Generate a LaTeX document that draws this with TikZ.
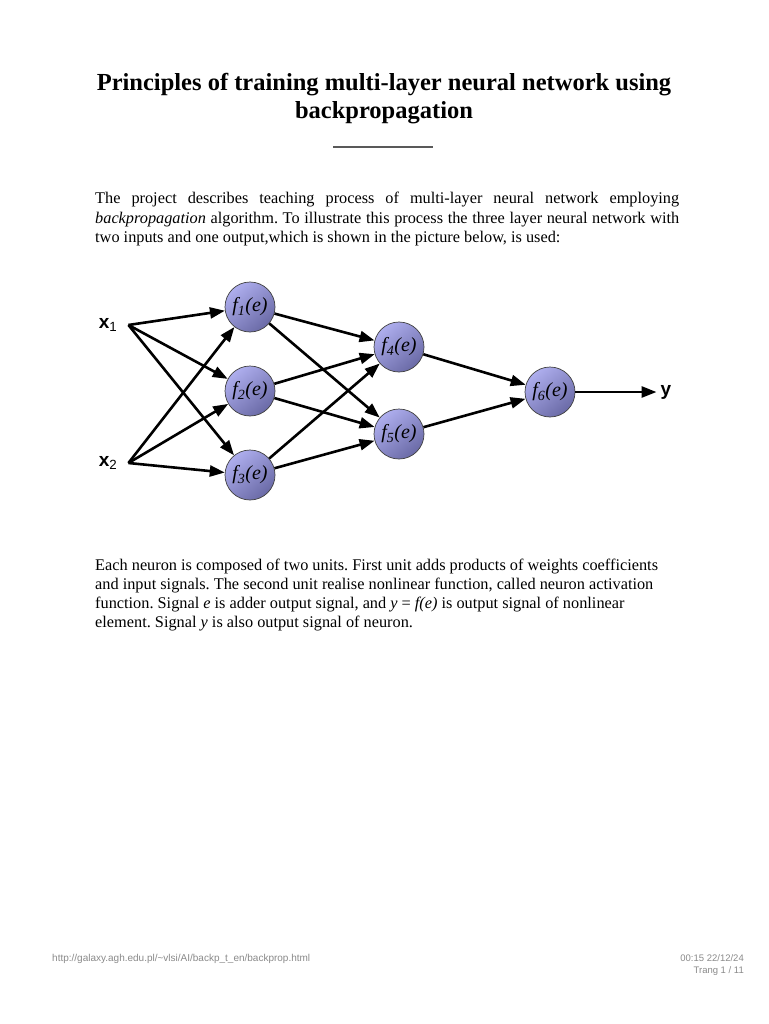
\documentclass[tikz,border=0pt]{standalone}
\usepackage{fontspec}
\setmainfont{Liberation Serif}
\setsansfont{Liberation Sans}
\usetikzlibrary{arrows.meta}
\definecolor{neuronlight}{HTML}{AEAEEE}
\definecolor{neurondark}{HTML}{6A6AA6}
\definecolor{footgray}{HTML}{8A8A8A}
\tikzset{
    neuron/.style = {circle, draw=black!75, line width=0.7pt, minimum size=50pt, inner sep=0pt,
        top color=neuronlight, bottom color=neurondark, shading angle=40,
        font=\fontsize{20}{20}\selectfont\itshape},
    signal/.style = {draw, line width=2.6pt, -{Triangle[length=15pt, width=11pt]}},
    in label/.style = {font=\fontsize{19}{19}\selectfont\sffamily\bfseries, inner xsep=11pt, inner ysep=0pt},
    out label/.style = {font=\fontsize{19}{19}\selectfont\sffamily\bfseries, inner xsep=4pt, inner ysep=0pt},
    body/.style = {font=\fontsize{16.3}{19}\selectfont, inner sep=0pt, anchor=base west},
    title/.style = {font=\fontsize{24.5}{28}\selectfont\bfseries, inner sep=0pt, anchor=base},
    foot/.style = {font=\fontsize{8.5}{10}\selectfont\sffamily, text=footgray, inner sep=0pt},
}
\newcommand{\fe}[1]{f\textsubscript{\itshape #1}(e)}
\newcommand{\insig}[1]{x\textsubscript{\mdseries #1}}
\frenchspacing
\begin{document}
\begin{tikzpicture}[x=1pt, y=-1pt]
    \useasboundingbox[fill=white] (0,0) rectangle (768,1024);

    % heading
    \node[title] (t1) at (384,91) {Principles of training multi-layer neural network using};
    \node[title] (t2) at (384,119) {backpropagation};
    \draw[black!65, line width=1.1pt] (333,147) -- (433,147);

    % first paragraph
    \node[body] (p1) at (95,204) {\makebox[584pt][s]{The project describes teaching process of multi-layer neural network employing}};
    \node[body] (p2) at (95,223) {\makebox[584pt][s]{\textit{backpropagation} algorithm. To illustrate this process the three layer neural network with}};
    \node[body] (p3) at (95,242) {two inputs and one output,which is shown in the picture below, is used:};

    % network
    \node[in label] (x1) at (108,325) {\insig1};
    \node[in label] (x2) at (108,463) {\insig2};

    \node[neuron] (f1) at (250,307) {\fe1};
    \node[neuron] (f2) at (250,391) {\fe2};
    \node[neuron] (f3) at (250,475) {\fe3};

    \node[neuron] (f4) at (399,347) {\fe4};
    \node[neuron] (f5) at (399,434) {\fe5};

    \node[neuron] (f6) at (550,392) {\fe6};
    \node[out label] (y) at (666,392) {y};

    \draw[signal] (x1.east) -- (f1); \draw[signal] (x1.east) -- (f2); \draw[signal] (x1.east) -- (f3);
    \draw[signal] (x2.east) -- (f1); \draw[signal] (x2.east) -- (f2); \draw[signal] (x2.east) -- (f3);
    \draw[signal] (f1) -- (f4); \draw[signal] (f1) -- (f5);
    \draw[signal] (f2) -- (f4); \draw[signal] (f2) -- (f5);
    \draw[signal] (f3) -- (f4); \draw[signal] (f3) -- (f5);
    \draw[signal] (f4) -- (f6); \draw[signal] (f5) -- (f6);
    \draw[signal] (f6) -- (y);

    % second paragraph
    \node[body] (q1) at (95,570) {Each neuron is composed of two units. First unit adds products of weights coefficients};
    \node[body] (q2) at (95,589) {and input signals. The second unit realise nonlinear function, called neuron activation};
    \node[body] (q3) at (95,608) {function. Signal \textit{e} is adder output signal, and \textit{y} = \textit{f(e)} is output signal of nonlinear};
    \node[body] (q4) at (95,627) {element. Signal \textit{y} is also output signal of neuron.};

    % footer
    \node[foot, anchor=base west, font=\fontsize{10}{12}\selectfont\sffamily] (url) at (52,961) {http://galaxy.agh.edu.pl/\textasciitilde vlsi/AI/backp\_t\_en/backprop.html};
    \node[foot, anchor=base east, font=\fontsize{9.5}{12}\selectfont\sffamily] (stamp) at (744,961) {00:15 22/12/24};
    \node[foot, anchor=base east, font=\fontsize{9.5}{12}\selectfont\sffamily] (page) at (744,973) {Trang 1 / 11};
\end{tikzpicture}
\end{document}
